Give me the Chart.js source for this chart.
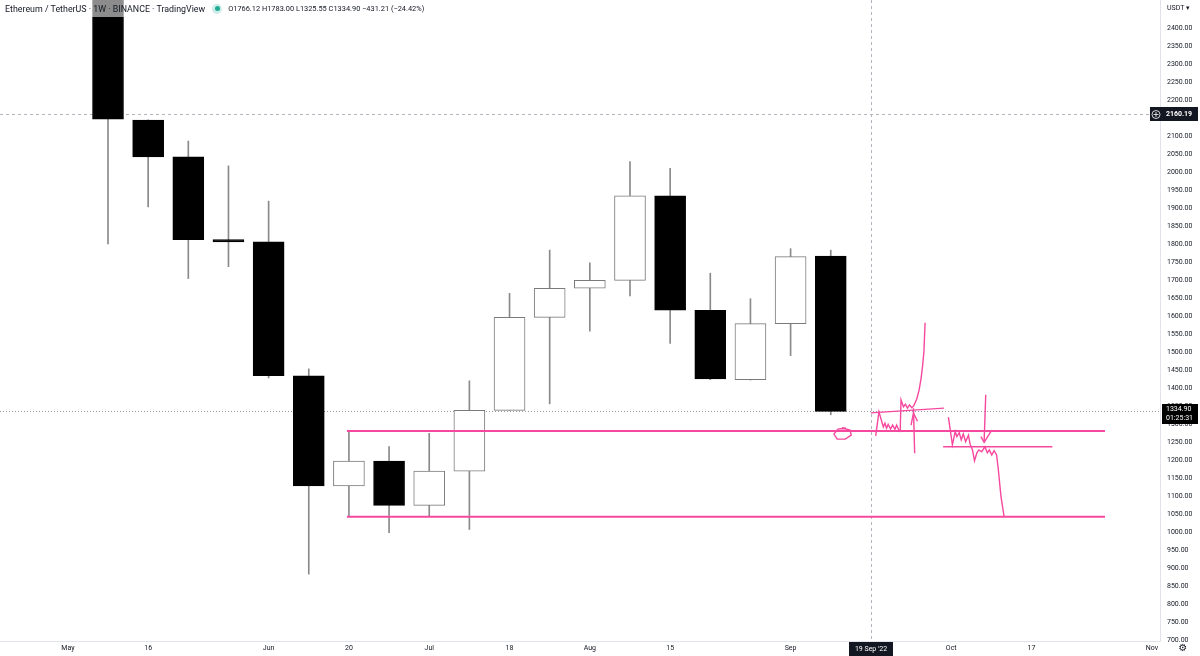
<!DOCTYPE html>
<html>
<head>
<meta charset="utf-8">
<title>Ethereum / TetherUS 1W</title>
<script src="https://cdn.jsdelivr.net/npm/chart.js@4/dist/chart.umd.min.js"></script>
<style>
  html, body { margin: 0; padding: 0; background: #fff; overflow: hidden; }
  #wrap { position: relative; width: 1200px; height: 656px; font-family: Roboto, 'Noto Sans', sans-serif; color: #131722; }
  #legend { position: absolute; left: 0; top: 0; height: 17px; padding: 0 6px 0 5px; display: flex; align-items: center;
            background: rgba(255, 255, 255, 0.55); white-space: nowrap; }
  #legend .title { font-size: 8.85px; }
  #legend .dot { position: relative; width: 10px; height: 10px; border-radius: 50%; background: rgba(34, 171, 148, 0.22); margin-left: 7px; }
  #legend .dot::after { content: ''; position: absolute; left: 2.5px; top: 2.5px; width: 5px; height: 5px; border-radius: 50%; background: #22ab94; }
  #legend .ohlc { font-size: 7.4px; margin-left: 6px; }
</style>
</head>
<body>
<div id="wrap">
  <canvas id="ethWeekly" width="1200" height="656"></canvas>
  <div id="legend">
    <span class="title">Ethereum / TetherUS · 1W · BINANCE · TradingView</span>
    <span class="dot"></span>
    <span class="ohlc">O1766.12 H1783.00 L1325.55 C1334.90 −431.21 (−24.42%)</span>
  </div>
</div>
<script>
// weekly candles, ETH/USDT (Binance)
const firstWeek = '2022-05-02';
const weeks = ['2022-05-09', '2022-05-16', '2022-05-23', '2022-05-30', '2022-06-06', '2022-06-13', '2022-06-20',
  '2022-06-27', '2022-07-04', '2022-07-11', '2022-07-18', '2022-07-25', '2022-08-01', '2022-08-08', '2022-08-15',
  '2022-08-22', '2022-08-29', '2022-09-05', '2022-09-12'];
const opens  = [2518, 2144, 2042, 1812, 1806, 1434, 1128, 1197, 1074, 1169, 1338, 1596, 1677, 1699, 1934, 1616, 1423, 1579, 1766.12];
const highs  = [2545, 2145, 2086, 2017, 1919, 1453, 1281, 1237, 1274, 1420, 1663, 1783, 1748, 2029, 2010, 1719, 1648, 1787, 1783.00];
const lows   = [1800, 1903, 1704, 1737, 1428, 883, 1043, 998, 1045, 1007, 1338, 1356, 1558, 1656, 1524, 1423, 1422, 1490, 1325.55];
const closes = [2147, 2042, 1812, 1806, 1434, 1128, 1197, 1074, 1169, 1338, 1596, 1677, 1699, 1934, 1616, 1425, 1579, 1765, 1334.90];

// time axis labels
const timeTickDates  = ['2022-05-02', '2022-05-16', '2022-06-06', '2022-06-20', '2022-07-04', '2022-07-18',
  '2022-08-01', '2022-08-15', '2022-09-05', '2022-10-03', '2022-10-17', '2022-11-07'];
const timeTickLabels = ['May', '16', 'Jun', '20', 'Jul', '18', 'Aug', '15', 'Sep', 'Oct', '17', 'Nov'];

// price axis
const priceTickStep = 50;
const priceTickTop = 2400;
const currentPrice = 1334.90;
const countdown = '01:25:31';
const crosshairPrice = 2160.19;
const crosshairDate = '2022-09-19';
const crosshairDateLabel = "19 Sep '22";

// pink drawings: [week offset from firstWeek, price]
const levelPrices = [1280.6, 1042.5];
const levelSpan = [6.95, 25.83];
const sketchCircle = [[19.38, 1289], [19.18, 1286], [19.08, 1272], [19.16, 1258], [19.36, 1258], [19.51, 1269], [19.48, 1283], [19.28, 1289]];
const sketchBreakout = [[20.12, 1267], [20.20, 1334], [20.31, 1292], [20.35, 1302], [20.39, 1288], [20.43, 1299], [20.49, 1286],
  [20.54, 1297], [20.60, 1285], [20.64, 1297], [20.70, 1282], [20.73, 1280], [20.75, 1367], [20.81, 1348], [20.86, 1355],
  [20.91, 1344], [20.96, 1353], [21.02, 1345], [21.07, 1351], [21.14, 1369], [21.20, 1394], [21.25, 1427], [21.29, 1464],
  [21.32, 1501], [21.35, 1581]];
const sketchTopLine = [[20.00, 1331], [21.82, 1344]];
const sketchUpArrow = [[21.09, 1219], [21.06, 1344]];
const sketchUpHead = [[21.00, 1297], [21.06, 1330], [21.16, 1308]];
const sketchBreakdown = [[21.93, 1319], [22.03, 1242], [22.10, 1279], [22.14, 1265], [22.20, 1276], [22.25, 1256], [22.30, 1272],
  [22.36, 1251], [22.43, 1269], [22.47, 1244], [22.53, 1228], [22.58, 1198], [22.64, 1220], [22.69, 1228], [22.76, 1223],
  [22.84, 1237], [22.90, 1220], [22.95, 1228], [23.01, 1214], [23.07, 1226], [23.13, 1214], [23.17, 1177], [23.24, 1098],
  [23.32, 1041]];
const sketchDownArrow = [[22.86, 1381], [22.82, 1251]];
const sketchDownHead = [[22.74, 1265], [22.82, 1249], [23.01, 1283]];
const sketchRetest = [[21.80, 1237], [24.52, 1237]];

const X_MIN = -1.69, X_MAX = 27.2;
const Y_MIN = 697.2, Y_MAX = 2477.8;

const PINK = '#f5489e';
const INK = '#131722';

function weekIndex(date) {
  return (Date.parse(date) - Date.parse(firstWeek)) / (7 * 864e5);
}

const candleX = weeks.map(weekIndex);
const isUp = opens.map((o, i) => closes[i] >= o);

function pts(arr) {
  return arr.map(p => ({ x: p[0], y: p[1] }));
}

function sketch(arr, width) {
  return {
    type: 'line',
    data: pts(arr),
    borderColor: PINK,
    borderWidth: width || 1.4,
    pointRadius: 0,
    tension: 0,
    order: 0
  };
}

const overlay = {
  id: 'overlay',
  beforeDatasetsDraw(chart) {
    const { ctx, chartArea, scales } = chart;
    ctx.save();
    ctx.lineWidth = 1;
    // last price line
    let y = Math.round(scales.y.getPixelForValue(currentPrice)) + 0.5;
    ctx.strokeStyle = '#9598a1';
    ctx.setLineDash([1, 2]);
    ctx.beginPath(); ctx.moveTo(chartArea.left, y); ctx.lineTo(chartArea.right, y); ctx.stroke();
    // crosshair
    ctx.strokeStyle = '#b2b5be';
    ctx.setLineDash([3, 3]);
    y = Math.round(scales.y.getPixelForValue(crosshairPrice)) + 0.5;
    ctx.beginPath(); ctx.moveTo(chartArea.left, y); ctx.lineTo(chartArea.right, y); ctx.stroke();
    const x = Math.round(scales.x.getPixelForValue(weekIndex(crosshairDate))) + 0.5;
    ctx.beginPath(); ctx.moveTo(x, chartArea.top); ctx.lineTo(x, chartArea.bottom); ctx.stroke();
    ctx.restore();
  },
  afterDraw(chart) {
    const { ctx, chartArea, scales } = chart;
    ctx.save();
    ctx.font = '7px Roboto';
    ctx.textBaseline = 'middle';

    // currency
    ctx.fillStyle = INK;
    ctx.textAlign = 'left';
    ctx.fillText('USDT', chartArea.right + 7, 8);
    ctx.fillText('▾', chartArea.right + 26, 8);

    // crosshair price label
    let y = Math.round(scales.y.getPixelForValue(crosshairPrice));
    ctx.fillStyle = INK;
    ctx.fillRect(chartArea.right - 10, y - 7, 48, 14);
    ctx.strokeStyle = '#ffffff';
    ctx.lineWidth = 0.8;
    ctx.beginPath(); ctx.arc(chartArea.right - 4, y + 0.5, 4, 0, Math.PI * 2); ctx.stroke();
    ctx.beginPath();
    ctx.moveTo(chartArea.right - 6.5, y + 0.5); ctx.lineTo(chartArea.right - 1.5, y + 0.5);
    ctx.moveTo(chartArea.right - 4, y - 2); ctx.lineTo(chartArea.right - 4, y + 3);
    ctx.stroke();
    ctx.fillStyle = '#ffffff';
    ctx.font = 'bold 7px Roboto';
    ctx.fillText(crosshairPrice.toFixed(2), chartArea.right + 6, y + 0.5);

    // last price label with countdown
    y = Math.round(scales.y.getPixelForValue(currentPrice));
    ctx.fillStyle = '#000000';
    ctx.fillRect(chartArea.right + 2, y - 7, 36, 20);
    ctx.fillStyle = '#ffffff';
    ctx.font = '7px Roboto';
    ctx.fillText(currentPrice.toFixed(2), chartArea.right + 6, y - 2);
    ctx.fillText(countdown, chartArea.right + 6, y + 7);

    // crosshair date label
    const x = Math.round(scales.x.getPixelForValue(weekIndex(crosshairDate)));
    ctx.fillStyle = INK;
    ctx.fillRect(x - 22, chartArea.bottom + 1, 44, 15);
    ctx.fillStyle = '#ffffff';
    ctx.textAlign = 'center';
    ctx.fillText(crosshairDateLabel, x, chartArea.bottom + 8);

    // settings gear
    ctx.fillStyle = INK;
    ctx.font = '10px DejaVu Sans';
    ctx.fillText('⚙', chartArea.right + 23, chartArea.bottom + 7);
    ctx.restore();
  }
};

new Chart(
  document.getElementById('ethWeekly'),
  {
    type: 'bar',
    data: {
      datasets: [
        {
          label: 'Body',
          data: candleX.map((x, i) => ({ x: x, y: [opens[i], closes[i]] })),
          backgroundColor: isUp.map(u => u ? '#ffffff' : '#000000'),
          borderColor: isUp.map(u => u ? '#7b7b7b' : '#000000'),
          borderWidth: 1,
          borderSkipped: false,
          barThickness: 31,
          grouped: false,
          order: 1
        },
        {
          label: 'Wick',
          data: candleX.map((x, i) => ({ x: x, y: [lows[i], highs[i]] })),
          backgroundColor: '#8a8a8a',
          borderWidth: 0,
          barThickness: 1,
          grouped: false,
          order: 2
        },
        ...levelPrices.map(p => sketch([[levelSpan[0], p], [levelSpan[1], p]], 2)),
        sketch(sketchCircle),
        sketch(sketchBreakout),
        sketch(sketchTopLine),
        sketch(sketchUpArrow),
        sketch(sketchUpHead),
        sketch(sketchBreakdown),
        sketch(sketchDownArrow),
        sketch(sketchDownHead),
        sketch(sketchRetest)
      ]
    },
    options: {
      responsive: false,
      animation: false,
      devicePixelRatio: 1,
      events: [],
      layout: { padding: 0 },
      plugins: {
        legend: { display: false },
        tooltip: { enabled: false }
      },
      scales: {
        x: {
          type: 'linear',
          offset: false,
          min: X_MIN,
          max: X_MAX,
          grid: { display: false, drawTicks: false },
          border: { display: true, color: '#e0e3eb' },
          afterBuildTicks: scale => {
            scale.ticks = timeTickDates.map(d => ({ value: weekIndex(d) }));
          },
          afterFit: scale => {
            scale.height = 15;
            scale.paddingLeft = 0;
            scale.paddingRight = 0;
          },
          ticks: {
            autoSkip: false,
            maxRotation: 0,
            padding: 3,
            color: INK,
            font: { family: 'Roboto', size: 7 },
            callback: (value, index) => timeTickLabels[index]
          }
        },
        y: {
          position: 'right',
          min: Y_MIN,
          max: Y_MAX,
          grid: { display: false, drawTicks: false },
          border: { display: true, color: '#e0e3eb' },
          afterFit: scale => {
            scale.width = 40;
            scale.paddingTop = 0;
            scale.paddingBottom = 0;
          },
          ticks: {
            stepSize: priceTickStep,
            includeBounds: false,
            autoSkip: false,
            padding: 7,
            color: INK,
            font: { family: 'Roboto', size: 7 },
            callback: value => value > priceTickTop ? null : value.toFixed(2)
          }
        }
      }
    },
    plugins: [overlay]
  }
);
</script>
</body>
</html>
